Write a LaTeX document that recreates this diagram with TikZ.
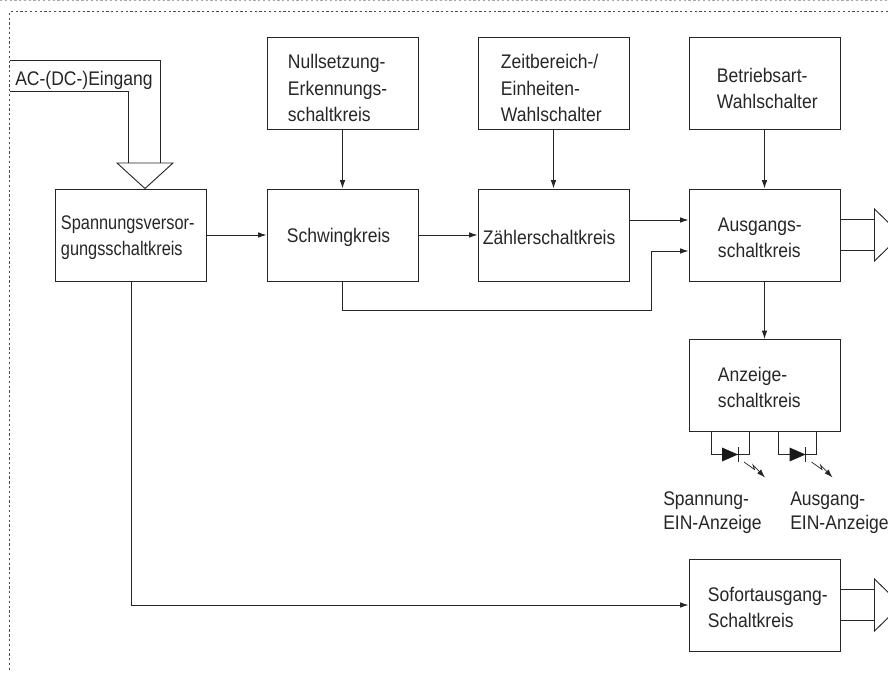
\documentclass[tikz,border=0pt]{standalone}
\usepackage{fontspec}
\setmainfont[FakeStretch=0.89]{Liberation Sans}
\newfontfamily\narrowfont[FakeStretch=0.83]{Liberation Sans}
\usetikzlibrary{arrows.meta}

\tikzset{
  block/.style={draw=black!85, line width=0.65pt, text width=3.775cm, minimum height=2.3cm, align=left, inner sep=0pt, font=\fontsize{14}{18.5}\selectfont, text=black!85, execute at begin node={\leftskip=\dimexpr 0.025cm*#1\relax\rule{0pt}{13pt}}},
  drop/.style={execute at begin node={\rule{0pt}{16.5pt}}},
  label/.style={align=left, inner sep=0pt, font=\fontsize{14}{17}\selectfont, text=black!85},
  line/.style={draw=black!85, line width=0.65pt},
  flow/.style={line, -{Latex[length=6pt, width=4pt]}},
  frame/.style={draw=black!70, line width=0.5pt, dash pattern=on 1.6pt off 1.8pt},
}

\begin{document}
\begin{tikzpicture}[x=0.025cm, y=-0.025cm]
\useasboundingbox (0,0) rectangle (888,672);
\clip (0,0) rectangle (888,672);

% frame
\draw[frame, draw=black!35] (0,0.5) -- (888,0.5);
\draw[frame] (888,11.5) -- (9.5,11.5) -- (9.5,672);

% blocks
\node[block=6] (supply) at (130.5,235) {\narrowfont Spannungsversor-\\gungsschaltkreis};
\node[block=20] (osc) at (342.5,235) {Schwingkreis};
\node[block=5] (count) at (553.5,235) {Zählerschaltkreis};
\node[block=29] (out) at (764.5,235) {Ausgangs-\\schaltkreis};
\node[block=21, drop] (zero) at (342.5,83.5) {Nullsetzung-\\Erkennungs-\\schaltkreis};
\node[block=23, drop] (range) at (553.5,83.5) {Zeitbereich-/\\Einheiten-\\Wahlschalter};
\node[block=28, drop] (mode) at (764.5,83.5) {Betriebsart-\\Wahlschalter};
\node[block=29] (disp) at (764.5,385.5) {Anzeige-\\schaltkreis};
\node[block=19] (inst) at (764.5,605) {Sofortausgang-\\Schaltkreis};

% input
\coordinate (InA) at (10,60.5);
\coordinate (InB) at (10,91);
\coordinate (InL) at (117,163);
\coordinate (InR) at (173,163);
\coordinate (InT) at (128.5,163);
\coordinate (InU) at (160,163);
\node[label, anchor=base west] (ac) at (15,85) {AC-(DC-)Eingang};
\draw[line] (InA) -| (InU);
\draw[line] (InB) -| (InT);
\draw[line] (InL) -- (InR) -- (supply.north-|145,0) -- cycle;

% signal flow
\draw[flow] (supply) -- (osc);
\draw[flow] (osc) -- (count);
\draw[flow] (zero) -- (osc);
\draw[flow] (range) -- (count);
\draw[flow] (mode) -- (out);
\draw[flow] (out) -- (disp);
\coordinate (OutA) at (out.west|-0,220);
\coordinate (OutB) at (out.west|-0,251);
\draw[flow] (count.east|-OutA) -- (OutA);
\draw[flow] (osc.south) |- (651,310) |- (OutB);
\draw[flow] (supply.south-|131,0) |- (inst.west);

% outputs
\foreach \block/\y in {out/235, inst/605} {
  \draw[line] (\block.east|-0,\y-15.5) -- (874.5,\y-15.5);
  \draw[line] (\block.east|-0,\y+15.5) -- (874.5,\y+15.5);
  \draw[line] (874.5,\y-26) -- (874.5,\y+26) -- (901,\y) -- cycle;
}

% lamps
\foreach \x/\name in {711/one, 778.5/two} {
  \draw[line] (\x,431) -- (\x,454) -- (\x+38,454) -- (\x+38,431);
  \fill[black!90] (\x+11,447.5) -- (\x+27,454.5) -- (\x+11,461.5) -- cycle;
  \draw[line] (\x+27,447) -- (\x+27,462);
  \draw[-{Latex[length=6pt, width=4pt]}, draw=black!85, line width=0.5pt] (\x+33,462) -- (\x+43.5,469.5) -- (\x+42,465) -- (\x+54,477.5);
}

% labels
\node[label, anchor=base west] (lampA) at (663,529) {Spannung-\\EIN-Anzeige};
\node[label, anchor=base west] (lampB) at (790,529) {Ausgang-\\EIN-Anzeige};

\end{tikzpicture}
\end{document}
